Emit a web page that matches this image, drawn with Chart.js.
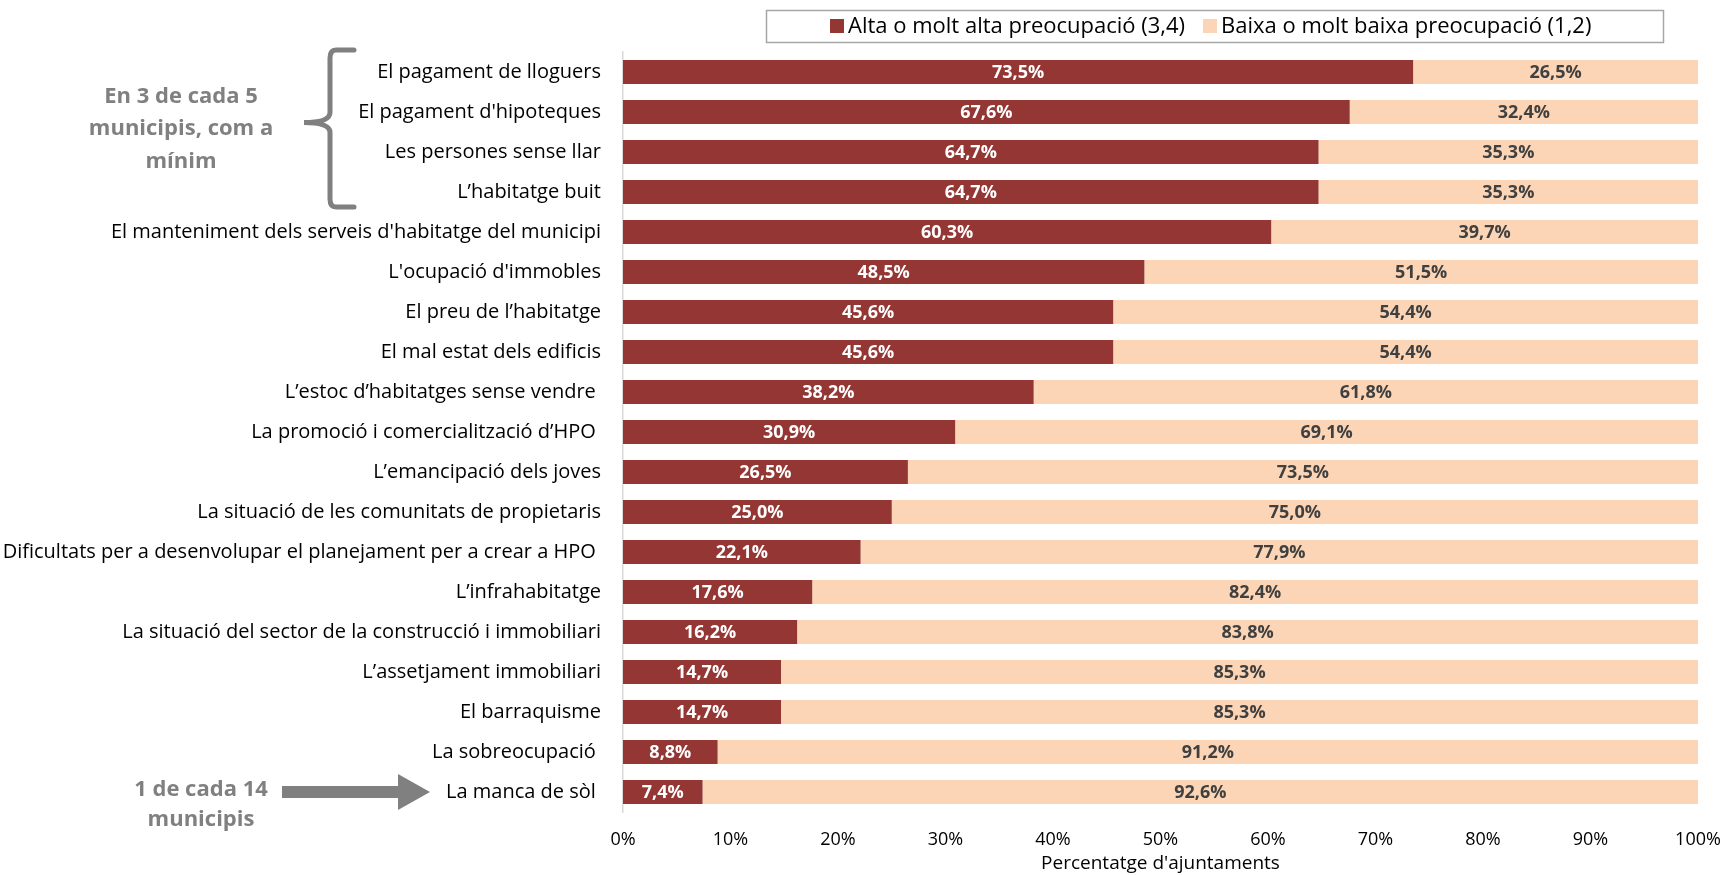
<!DOCTYPE html>
<html>
<head>
<meta charset="utf-8">
<script src="https://cdn.jsdelivr.net/npm/chart.js@4.4.1/dist/chart.umd.min.js"></script>
<style>
  html, body { margin: 0; padding: 0; background: #fff; overflow: hidden; }
  #wrap { width: 1723px; height: 875px; position: relative; }
</style>
</head>
<body>
<div id="wrap"><canvas id="grafic"></canvas></div>
<script>
// --- DADES ---
const categories = [
  "El pagament de lloguers",
  "El pagament d'hipoteques",
  "Les persones sense llar",
  "L\u2019habitatge buit",
  "El manteniment dels serveis d'habitatge del municipi",
  "L'ocupació d'immobles",
  "El preu de l\u2019habitatge",
  "El mal estat dels edificis",
  "L\u2019estoc d\u2019habitatges sense vendre ",
  "La promoció i comercialització d\u2019HPO ",
  "L\u2019emancipació dels joves",
  "La situació de les comunitats de propietaris",
  "Dificultats per a desenvolupar el planejament per a crear a HPO ",
  "L\u2019infrahabitatge",
  "La situació del sector de la construcció i immobiliari",
  "L\u2019assetjament immobiliari",
  "El barraquisme",
  "La sobreocupació ",
  "La manca de sòl "
];
const altaPreocupacio = [73.5, 67.6, 64.7, 64.7, 60.3, 48.5, 45.6, 45.6, 38.2, 30.9, 26.5, 25.0, 22.1, 17.6, 16.2, 14.7, 14.7, 8.8, 7.4];
const baixaPreocupacio = [26.5, 32.4, 35.3, 35.3, 39.7, 51.5, 54.4, 54.4, 61.8, 69.1, 73.5, 75.0, 77.9, 82.4, 83.8, 85.3, 85.3, 91.2, 92.6];
const serieNoms = ["Alta o molt alta preocupació (3,4)", "Baixa o molt baixa preocupació (1,2)"];
const xTicks = [0, 10, 20, 30, 40, 50, 60, 70, 80, 90, 100];

const FONT = "'Open Sans', sans-serif";
const COL_ALTA = '#943634';
const COL_BAIXA = '#FBD5B5';
const GRIS = '#808080';

// --- PLUGIN: etiquetes dins les barres ---
const etiquetesBarres = {
  id: 'etiquetesBarres',
  afterDatasetsDraw(chart) {
    const ctx = chart.ctx;
    ctx.save();
    ctx.font = "bold 18px " + FONT;
    ctx.textAlign = 'center';
    ctx.textBaseline = 'middle';
    chart.data.datasets.forEach((ds, i) => {
      const meta = chart.getDatasetMeta(i);
      meta.data.forEach((bar, j) => {
        const v = ds.data[j];
        ctx.fillStyle = i === 0 ? '#ffffff' : '#404040';
        ctx.fillText(v.toFixed(1).replace('.', ',') + '%', (bar.x + bar.base) / 2, bar.y + 1);
      });
    });
    ctx.restore();
  }
};

// --- PLUGIN: llegenda amb marc i anotacions ---
const extres = {
  id: 'extres',
  afterDraw(chart) {
    const ctx = chart.ctx;
    const y = chart.scales.y;
    ctx.save();

    // llegenda
    ctx.strokeStyle = '#a6a6a6';
    ctx.lineWidth = 1.5;
    ctx.strokeRect(766.5, 10.5, 897, 32);
    ctx.font = "22px " + FONT;
    ctx.textBaseline = 'middle';
    ctx.textAlign = 'left';
    const items = [
      { x: 830, color: COL_ALTA, text: serieNoms[0] },
      { x: 1203, color: COL_BAIXA, text: serieNoms[1] }
    ];
    items.forEach(it => {
      ctx.fillStyle = it.color;
      ctx.fillRect(it.x, 19, 14, 14);
      ctx.fillStyle = '#000';
      ctx.fillText(it.text, it.x + 18, 27);
    });

    // clau
    const top = y.getPixelForValue(0) - 22;
    const bot = y.getPixelForValue(3) + 15;
    const mid = (top + bot) / 2 - 6;
    const bx = 330;
    ctx.strokeStyle = GRIS;
    ctx.lineWidth = 5;
    ctx.lineCap = 'round';
    ctx.beginPath();
    ctx.moveTo(bx + 24, top);
    ctx.lineTo(bx + 6, top);
    ctx.quadraticCurveTo(bx, top, bx, top + 8);
    ctx.lineTo(bx, mid - 10);
    ctx.quadraticCurveTo(bx, mid, bx - 26, mid);
    ctx.quadraticCurveTo(bx, mid, bx, mid + 10);
    ctx.lineTo(bx, bot - 8);
    ctx.quadraticCurveTo(bx, bot, bx + 6, bot);
    ctx.lineTo(bx + 24, bot);
    ctx.stroke();

    ctx.fillStyle = GRIS;
    ctx.font = "bold 22px " + FONT;
    ctx.textAlign = 'center';
    ctx.fillText("En 3 de cada 5", 181, 97);
    ctx.fillText("municipis, com a", 181, 129);
    ctx.fillText("mínim", 181, 162);

    // fletxa
    const ay = y.getPixelForValue(18);
    ctx.beginPath();
    ctx.moveTo(282, ay - 6);
    ctx.lineTo(398, ay - 6);
    ctx.lineTo(398, ay - 18);
    ctx.lineTo(430, ay);
    ctx.lineTo(398, ay + 18);
    ctx.lineTo(398, ay + 6);
    ctx.lineTo(282, ay + 6);
    ctx.closePath();
    ctx.fill();
    ctx.fillText("1 de cada 14", 201, ay - 2);
    ctx.fillText("municipis", 201, ay + 28);

    ctx.restore();
  }
};

// --- GRÀFIC ---
Chart.defaults.font.family = FONT;
Chart.defaults.color = '#000';

new Chart(document.getElementById('grafic'), {
  type: 'bar',
  data: {
    labels: categories,
    datasets: [
      { label: serieNoms[0], data: altaPreocupacio, backgroundColor: COL_ALTA, barPercentage: 0.6, categoryPercentage: 1 },
      { label: serieNoms[1], data: baixaPreocupacio, backgroundColor: COL_BAIXA, barPercentage: 0.6, categoryPercentage: 1 }
    ]
  },
  options: {
    indexAxis: 'y',
    responsive: true,
    maintainAspectRatio: false,
    animation: false,
    layout: { padding: { top: 52, right: 25, left: 0, bottom: 0 } },
    plugins: { legend: { display: false }, tooltip: { enabled: false } },
    scales: {
      x: {
        stacked: true,
        min: 0, max: 100,
        afterBuildTicks: s => { s.ticks = xTicks.map(v => ({ value: v })); },
        afterFit: s => { s.height = 63; s.paddingRight = 0; s.paddingLeft = 0; },
        grid: { display: false, drawTicks: false },
        border: { display: false },
        ticks: { padding: 17, font: { size: 18 }, callback: v => v + '%' },
        title: { display: true, text: "Percentatge d'ajuntaments", font: { size: 19 }, padding: { top: 0, bottom: 0 } }
      },
      y: {
        stacked: true,
        afterFit: s => { s.width = 623; },
        grid: { display: false, drawTicks: false },
        border: { display: true, color: '#d9d9d9', width: 1.5 },
        ticks: { padding: 22, font: { size: 20 }, autoSkip: false }
      }
    }
  },
  plugins: [etiquetesBarres, extres]
});
</script>
</body>
</html>
